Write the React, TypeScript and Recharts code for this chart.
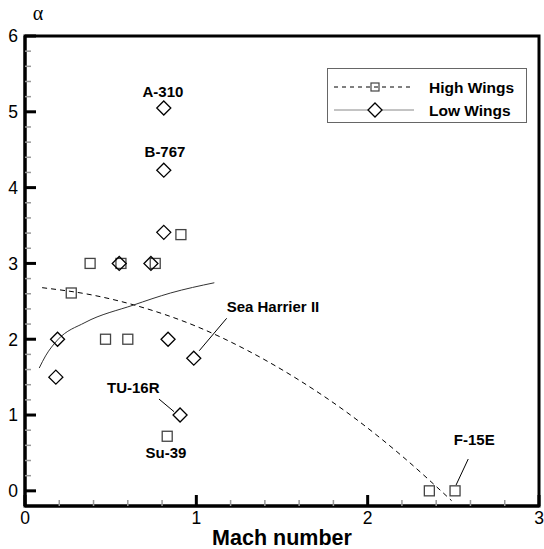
import React from "react";
import {
  ScatterChart,
  Scatter,
  XAxis,
  YAxis,
  ReferenceArea,
  ReferenceDot,
  ReferenceLine,
  Legend,
  Label,
} from "recharts";

// High wing aircraft (squares)
const highWingsMach = [0.38, 0.56, 0.76, 0.91, 0.27, 0.47, 0.6, 0.83, 2.36, 2.51];
const highWingsAlpha = [3.0, 3.0, 3.0, 3.38, 2.61, 2.0, 2.0, 0.72, 0.0, 0.0];

// Low wing aircraft (diamonds)
const lowWingsMach = [0.81, 0.81, 0.81, 0.55, 0.735, 0.19, 0.835, 0.985, 0.18, 0.905];
const lowWingsAlpha = [5.05, 4.23, 3.41, 3.0, 3.0, 2.0, 2.0, 1.75, 1.5, 1.0];

// trend curves
const highFitMach = [0.1, 0.4, 0.7, 1.0, 1.3, 1.6, 1.9, 2.2, 2.49];
const highFitAlpha = [2.68, 2.58, 2.41, 2.17, 1.85, 1.46, 1.0, 0.46, -0.13];
const lowFitMach = [0.083, 0.12, 0.19, 0.35, 0.632, 0.85, 1.105];
const lowFitAlpha = [1.62, 1.78, 1.99, 2.22, 2.45, 2.61, 2.745];

const xMajor = [0, 1, 2, 3];
const yMajor = [0, 1, 2, 3, 4, 5, 6];
const minorSteps = [0.2, 0.4, 0.6, 0.8];

const seriesNames = ["High Wings", "Low Wings"];

const zip = (xs: number[], ys: number[]) => xs.map((x, i) => ({ x, y: ys[i] }));
const highWings = zip(highWingsMach, highWingsAlpha);
const lowWings = zip(lowWingsMach, lowWingsAlpha);
const highFit = zip(highFitMach, highFitAlpha);
const lowFit = zip(lowFitMach, lowFitAlpha);

const withMinor = (majors: number[]) => [
  ...majors,
  ...majors.slice(0, -1).flatMap((m) => minorSteps.map((s) => m + s)),
];
const xTicks = withMinor(xMajor);
const yTicks = withMinor(yMajor);

// annotation text / leader lines, in chart units
const labels = [
  { text: "A-310", x: 0.805, y: 5.27, anchor: "middle" },
  { text: "B-767", x: 0.817, y: 4.48, anchor: "middle" },
  { text: "Sea Harrier II", x: 1.177, y: 2.43, anchor: "start" },
  { text: "TU-16R", x: 0.632, y: 1.36, anchor: "middle" },
  { text: "Su-39", x: 0.823, y: 0.51, anchor: "middle" },
  { text: "F-15E", x: 2.622, y: 0.67, anchor: "middle" },
];
const leaders = [
  [{ x: 1.177, y: 2.276 }, { x: 1.017, y: 1.848 }],
  [{ x: 0.782, y: 1.211 }, { x: 0.87, y: 1.044 }],
  [{ x: 2.587, y: 0.42 }, { x: 2.516, y: 0.077 }],
];

const FONT = "'Liberation Sans', Arial, Helvetica, sans-serif";
const isMajor = (v: number) => Math.abs(v - Math.round(v)) < 1e-6;

const YTick = (props: any) => {
  const { x, y, payload } = props;
  const v = payload.value;
  if (isMajor(v)) {
    return (
      <g>
        <line x1={x} x2={x + 11} y1={y} y2={y} stroke="#000" strokeWidth={3} />
        <text x={x - 7} y={y} dy="0.36em" textAnchor="end" fontSize={17.5} fontFamily={FONT} fill="#000">
          {Math.round(v)}
        </text>
      </g>
    );
  }
  return <line x1={x} x2={x + 6} y1={y} y2={y} stroke="#999" strokeWidth={1.5} />;
};

const XTick = (props: any) => {
  const { x, y, payload } = props;
  const v = payload.value;
  if (isMajor(v)) {
    return (
      <g>
        <line x1={x} x2={x} y1={y} y2={y - 11} stroke="#000" strokeWidth={3} />
        <text x={x} y={y + 6} dy="0.71em" textAnchor="middle" fontSize={17.5} fontFamily={FONT} fill="#000">
          {Math.round(v)}
        </text>
      </g>
    );
  }
  return <line x1={x} x2={x} y1={y} y2={y - 6} stroke="#999" strokeWidth={1.5} />;
};

const Square = (p: any) => (
  <rect x={p.cx - 5} y={p.cy - 5} width={10} height={10} fill="none" stroke="#444" strokeWidth={1.3} />
);

const Diamond = (p: any) => (
  <polygon
    points={`${p.cx},${p.cy - 7} ${p.cx + 7},${p.cy} ${p.cx},${p.cy + 7} ${p.cx - 7},${p.cy}`}
    fill="none"
    stroke="#000"
    strokeWidth={1.3}
  />
);

const LegendBox = () => (
  <div style={{ width: 200, height: 55, border: "1px solid #666", background: "#fff", boxSizing: "border-box" }}>
    <svg width={198} height={53}>
      <line x1={6} x2={86} y1={18} y2={18} stroke="#000" strokeWidth={1} strokeDasharray="4 4" />
      <rect x={43} y={14} width={8} height={8} fill="none" stroke="#444" strokeWidth={1.2} />
      <text x={101} y={18} dy="0.36em" fontSize={15.5} fontWeight="bold" fontFamily={FONT}>
        {seriesNames[0]}
      </text>
      <line x1={6} x2={86} y1={41} y2={41} stroke="#888" strokeWidth={1} />
      <polygon points="47,34 54,41 47,48 40,41" fill="#fff" stroke="#000" strokeWidth={1.3} />
      <text x={101} y={41} dy="0.36em" fontSize={15.5} fontWeight="bold" fontFamily={FONT}>
        {seriesNames[1]}
      </text>
    </svg>
  </div>
);

export default function App() {
  return (
    <div style={{ position: "absolute", left: 0, top: 0, background: "#fff" }}>
      <ScatterChart width={544} height={549} margin={{ top: 36, right: 5, bottom: 0, left: 0 }}>
        <ReferenceArea x1={0} x2={3} y1={-0.2} y2={6} fill="none" stroke="#000" strokeWidth={3} />
        <XAxis
          type="number"
          dataKey="x"
          domain={[0, 3]}
          ticks={xTicks}
          interval={0}
          height={43}
          axisLine={{ stroke: "#000", strokeWidth: 3 }}
          tickLine={false}
          tickSize={0}
          tickMargin={0}
          tick={<XTick />}
          allowDataOverflow
        >
          <Label
            content={(p: any) => {
              const vb = p.viewBox || { x: 25, y: 506, width: 514 };
              return (
                <text
                  x={vb.x + vb.width / 2}
                  y={vb.y + 31}
                  dy="0.36em"
                  textAnchor="middle"
                  fontSize={21.5}
                  fontWeight="bold"
                  fontFamily={FONT}
                  fill="#000"
                >
                  Mach number
                </text>
              );
            }}
          />
        </XAxis>
        <YAxis
          type="number"
          dataKey="y"
          domain={[-0.2, 6]}
          ticks={yTicks}
          interval={0}
          width={25}
          axisLine={{ stroke: "#000", strokeWidth: 3 }}
          tickLine={false}
          tickSize={0}
          tickMargin={0}
          tick={<YTick />}
          allowDataOverflow
        >
          <Label
            content={() => (
              <text x={38} y={13} dy="0.36em" textAnchor="middle" fontSize={20} fontFamily="'Liberation Serif', serif" fill="#000">
                α
              </text>
            )}
          />
        </YAxis>
        <Scatter
          name="highFit"
          data={highFit}
          line={{ stroke: "#000", strokeWidth: 1, strokeDasharray: "5 4" }}
          lineJointType="monotoneX"
          shape={() => <g />}
          legendType="none"
          isAnimationActive={false}
        />
        <Scatter
          name="lowFit"
          data={lowFit}
          line={{ stroke: "#333", strokeWidth: 1 }}
          lineJointType="monotoneX"
          shape={() => <g />}
          legendType="none"
          isAnimationActive={false}
        />
        <Scatter name={seriesNames[0]} data={highWings} shape={<Square />} isAnimationActive={false} />
        <Scatter name={seriesNames[1]} data={lowWings} shape={<Diamond />} isAnimationActive={false} />
        {leaders.map((seg, i) => (
          <ReferenceLine key={`ld-${i}`} segment={seg} stroke="#000" strokeWidth={1} />
        ))}
        {labels.map((l) => (
          <ReferenceDot
            key={l.text}
            x={l.x}
            y={l.y}
            r={0}
            shape={(p: any) => (
              <text
                x={p.cx}
                y={p.cy}
                dy="0.36em"
                textAnchor={l.anchor}
                fontSize={15}
                fontWeight="bold"
                fontFamily={FONT}
                fill="#000"
              >
                {l.text}
              </text>
            )}
          />
        ))}
        <Legend
          layout="vertical"
          align="center"
          verticalAlign="middle"
          wrapperStyle={{ left: 327, top: 68, width: 200, height: 55 }}
          content={() => <LegendBox />}
        />
      </ScatterChart>
    </div>
  );
}
